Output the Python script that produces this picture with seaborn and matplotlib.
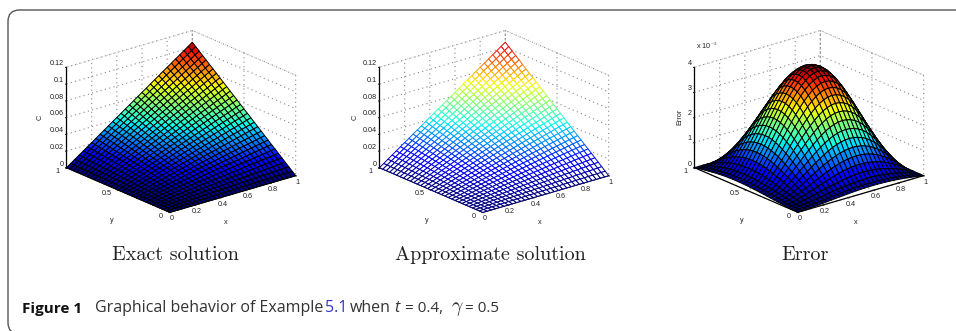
import numpy as np
import matplotlib
matplotlib.use("Agg")
import matplotlib.pyplot as plt
from matplotlib.patches import FancyBboxPatch
import seaborn as sns

# Surfaces are rebuilt from profiles (31 x 31 mesh)
grid_x = [i / 30 for i in range(31)]
grid_y = [i / 30 for i in range(31)]

solution_profile = [0.0, 0.033, 0.067, 0.1, 0.133, 0.167, 0.2, 0.233, 0.267, 0.3, 0.333,
                    0.367, 0.4, 0.433, 0.467, 0.5, 0.533, 0.567, 0.6, 0.633, 0.667,
                    0.7, 0.733, 0.767, 0.8, 0.833, 0.867, 0.9, 0.933, 0.967, 1.0]
error_profile = [0.05, 0.06, 0.09, 0.14, 0.205, 0.275, 0.347, 0.422, 0.499, 0.575, 0.65,
                 0.72, 0.786, 0.846, 0.898, 0.941, 0.973, 0.993, 1.0, 0.992, 0.971,
                 0.935, 0.884, 0.815, 0.732, 0.634, 0.526, 0.406, 0.281, 0.141, 0.0]
exact_peak = 0.106
approx_peak = 0.106
error_peak = 0.0039

xtick_vals = [0, 0.2, 0.4, 0.6, 0.8, 1]
xtick_labels = ["0", "0.2", "0.4", "0.6", "0.8", "1"]
ytick_vals = [0, 0.5, 1]
ytick_labels = ["0", "0.5", "1"]
ztick_vals = [0, 0.02, 0.04, 0.06, 0.08, 0.1, 0.12]
ztick_labels = ["0", "0.02", "0.04", "0.06", "0.08", "0.1", "0.12"]
err_ztick_vals = [0, 0.001, 0.002, 0.003, 0.004]
err_ztick_labels = ["0", "1", "2", "3", "4"]
panel_titles = ["Exact solution", "Approximate solution", "Error"]

sns.set_style("white")
plt.rcParams["font.family"] = ["Liberation Sans", "DejaVu Sans"]
plt.rcParams["mathtext.fontset"] = "cm"
jet = matplotlib.colormaps["jet"]

fig = plt.figure(figsize=(9.56, 3.31), dpi=100)
W, H = 956, 331


def px_text(x, y, s, **kw):
    kw.setdefault("fontsize", 5.2)
    kw.setdefault("color", "#222222")
    kw.setdefault("ha", "center")
    kw.setdefault("va", "center")
    return fig.text(x / W, 1 - y / H, s, **kw)


def make_axes(left_px, zlim, zticks, zlabels):
    ax = fig.add_axes([left_px / W, 1 - 238.5 / H, 290 / W, 228 / H], projection="3d")
    ax.patch.set_alpha(0)
    ax.set_proj_type("ortho")
    ax.view_init(elev=20.8, azim=-129.4)
    ax.set_box_aspect((1, 1, 0.66), zoom=1.082)
    ax.set_xlim(0, 1, view_margin=0)
    ax.set_ylim(0, 1, view_margin=0)
    ax.set_zlim(0, zlim, view_margin=0)
    ax.set_xticks(xtick_vals, xtick_labels)
    ax.set_yticks(ytick_vals, ytick_labels, ha="right", va="bottom")
    ax.set_zticks(zticks, zlabels, ha="right", va="bottom")
    ax.tick_params(labelsize=5.2, colors="#222222")
    ax.tick_params(axis="x", pad=-6.2)
    ax.tick_params(axis="y", pad=-3.5)
    ax.tick_params(axis="z", pad=-7)
    ax.zaxis.set_ticks_position("upper")
    for axis in (ax.xaxis, ax.yaxis, ax.zaxis):
        axis.pane.set_facecolor((1, 1, 1, 0))
        axis.pane.set_edgecolor("#888888")
        axis.pane.set_linestyle((0, (1, 3)))
        axis.pane.set_linewidth(0.8)
        axis.line.set_color("black")
        axis.line.set_linewidth(0.9)
        axis._axinfo["grid"].update(color="#888888", linestyle=(0, (1, 3)), linewidth=0.8)
        axis._axinfo["tick"].update(inward_factor=0.1, outward_factor=0.0)
    return ax


def cell_colors(z):
    return jet((z[:-1, :-1] - z.min()) / (z.max() - z.min()))


X, Y = np.meshgrid(grid_x, grid_y)
exact_z = exact_peak * np.outer(solution_profile, solution_profile)
approx_z = approx_peak * np.outer(solution_profile, solution_profile)
error_z = error_peak * np.outer(error_profile, error_profile)

ax1 = make_axes(33, 0.12, ztick_vals, ztick_labels)
surf1 = ax1.plot_surface(X, Y, exact_z, rstride=1, cstride=1, facecolors=cell_colors(exact_z),
                         edgecolor="black", linewidth=0.7, shade=False)
surf1.set_clip_on(False)

ax2 = make_axes(346, 0.12, ztick_vals, ztick_labels)
colors = cell_colors(approx_z)
mesh = ax2.plot_surface(X, Y, approx_z, rstride=1, cstride=1, facecolors=colors, shade=False)
mesh.set_facecolor("white")
mesh.set_edgecolor(colors.reshape(-1, 4))
mesh.set_linewidth(0.7)
mesh.set_clip_on(False)

ax3 = make_axes(661, 0.004, err_ztick_vals, err_ztick_labels)
surf3 = ax3.plot_surface(X, Y, error_z, rstride=1, cstride=1, facecolors=cell_colors(error_z),
                         edgecolor="black", linewidth=0.7, shade=False)
surf3.set_clip_on(False)

px_text(696, 51, r"x 10$^{-3}$", ha="left", va="bottom")
for xlab_x, ylab_x, zlab_x, zlab in [(226, 112, 40, "C"), (540, 427, 355, "C"), (856, 742, 680, "Error")]:
    px_text(xlab_x, 222, "x")
    px_text(ylab_x, 220, "y")
    px_text(zlab_x, 117, zlab, rotation=90)

for cx, title in zip([175.5, 490, 805], panel_titles):
    px_text(cx, 255, title, family="cmr10", fontsize=14.5)

# card frame, runs off the right and bottom edges
frame = FancyBboxPatch((8 / W, -3 / H), 980 / W, (331 - 10 + 3) / H, transform=fig.transFigure,
                       boxstyle="round,pad=0,rounding_size=0.012", mutation_aspect=W / H,
                       facecolor="none", edgecolor="#555555", linewidth=1.0, clip_on=False)
fig.add_artist(frame)

cap = "#333333"
px_text(22, 308.5, "Figure 1", family="Open Sans", weight="bold", fontsize=11, color="#111111", ha="left")
px_text(95, 308.5, "Graphical behavior of Example", family="Open Sans", fontsize=11.5, color=cap, ha="left")
px_text(325, 308.5, "5.1", family="Open Sans", fontsize=11.5, color="#3333cc", ha="left")
px_text(350, 308.5, "when", family="Open Sans", fontsize=11.5, color=cap, ha="left")
px_text(394, 308.5, "t", family="Open Sans", style="italic", fontsize=11.5, color=cap, ha="left")
px_text(405, 308.5, "= 0.4,", family="Open Sans", fontsize=11, color=cap, ha="left")
px_text(451, 308.5, r"$\gamma$", fontsize=14, color=cap, ha="left")
px_text(465, 308.5, "= 0.5", family="Open Sans", fontsize=11, color=cap, ha="left")

fig.savefig("out.png", dpi=100)
